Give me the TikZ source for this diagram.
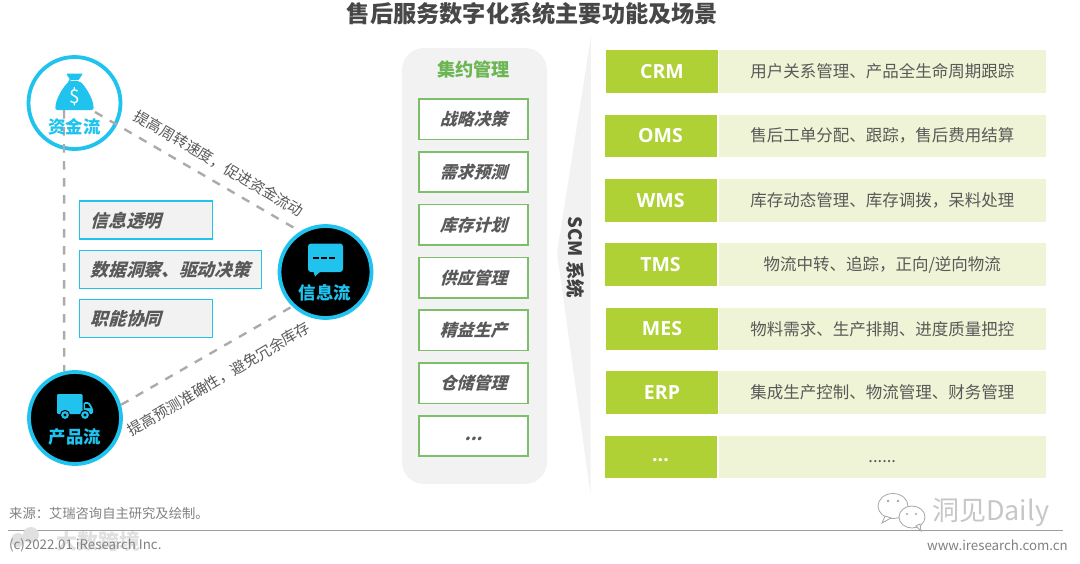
\documentclass[tikz,border=0pt]{standalone}
\usepackage{fontspec}
\setmainfont{Noto Sans CJK SC}
\newfontfamily\cjkslant[FakeSlant=0.28]{Noto Sans CJK SC}
\newfontfamily\latinbold{Open Sans}
\newcommand{\fs}[1]{\fontsize{#1}{#1}\selectfont}
\definecolor{cyanc}{HTML}{1FC3EE}
\definecolor{dash}{HTML}{ABABAB}
\definecolor{panelg}{HTML}{F2F2F2}
\definecolor{leaf}{HTML}{6BB552}
\definecolor{leafline}{HTML}{7DBE6A}
\definecolor{lime}{HTML}{AFD136}
\definecolor{limel}{HTML}{EEF4D5}
\definecolor{ink}{HTML}{595959}
\definecolor{foot}{HTML}{808080}
\tikzset{
  flowc/.style={circle,line width=3.8pt,draw=cyanc,minimum size=92pt,inner sep=0pt},
  flowlab/.style={text=cyanc,font=\fs{17.4}\bfseries,inner sep=0pt},
  dashline/.style={draw=dash,line width=2.4pt,dash pattern=on 8.5pt off 8.5pt},
  slanttxt/.style={text=ink,inner sep=0pt,font=\fs{14.9}},
  infobox/.style={rectangle,fill=panelg,draw=cyanc,line width=1.4pt,minimum height=38pt,inner sep=0pt,anchor=west},
  infotxt/.style={text=ink,inner sep=0pt,anchor=west,font=\cjkslant\bfseries\fs{17.7}},
  taskbox/.style={rectangle,fill=white,draw=leafline,line width=1.6pt,minimum width=109pt,minimum height=40.5pt,inner sep=0pt,text=ink,font=\cjkslant\bfseries\fs{16.8}},
  keybox/.style={rectangle,fill=lime,minimum width=112pt,minimum height=42.6pt,inner sep=0pt,text=white,font=\latinbold\bfseries\fs{19.5}},
  descbox/.style={rectangle,fill=limel,minimum height=42.6pt,inner sep=0pt,text=ink,font=\fs{16.5}},
  footer/.style={text=foot,inner sep=0pt,font=\fs{13.3}},
}
\newcommand{\rowitem}[5]{%
  \node[descbox,minimum width=327.5pt] (d#1) at (882.25,#3) {#5};
  \node[keybox] (k#1) at (#2,#3) {#4};
}
\begin{document}
\begin{tikzpicture}[x=1pt,y=-1pt]
\useasboundingbox (0,0) rectangle (1080,563);
% title
\node[inner sep=0pt,text=black!72,font=\fs{23.2}\bfseries] (title) at (532.5,14) {售后服务数字化系统主要功能及场景};
% circles
\node[flowc,fill=white] (fund) at (74.5,103) {};
\node[flowc,fill=black] (info) at (325.5,272) {};
\node[flowc,fill=black] (prod) at (75,418) {};
% connectors
\coordinate (fundv) at (64,110);
\coordinate (fundd) at (95,112);
\draw[dashline] (fundv) -- (prod.103);
\draw[dashline] (fundd) -- (info.122);
\draw[dashline] (prod.16) -- (info.226);
% icons
\fill[cyanc] (66.5,73.5) -- (82.5,73.5) -- (81,76.5) -- (78.5,80) -- (70.5,80) -- (68,76.5) -- cycle;
\fill[cyanc,rounded corners=2pt] (69.5,81) -- (79.5,81) .. controls (86,87) and (94,100) .. (93.5,110) -- (55.5,110) .. controls (55,100) and (63,87) .. (69.5,81) -- cycle;
\node[inner sep=0pt,text=white,font=\fs{19}] (dollar) at (74.5,96.5) {\$};
\node[flowlab] (fundl) at (74.5,126.5) {资金流};
\fill[cyanc,rounded corners=3pt] (308,243.5) rectangle (343,272);
\fill[cyanc] (313,270) -- (322,270) -- (315,276.5) -- cycle;
\foreach \xx in {313,321,329}{\fill[black] (\xx,256.5) rectangle +(6,2.6);}
\node[flowlab] (infol) at (325,293) {信息流};
\fill[cyanc,rounded corners=1.2pt] (57,394) rectangle (82.5,414);
\fill[cyanc,rounded corners=1.5pt] (83.5,402) -- (89,402) -- (93,408.5) -- (93,414) -- (83.5,414) -- cycle;
\fill[black] (85,404) -- (88,404) -- (90.5,408) -- (85,408) -- cycle;
\foreach \xx in {65,85}{\fill[cyanc,draw=black,line width=1pt] (\xx,415) circle (4.6pt);\fill[black] (\xx,415) circle (1.7pt);}
\node[flowlab] (prodl) at (75,437) {产品流};
% connector labels
\node[slanttxt,rotate=-30.5] (lab1) at (219,163.5) {提高周转速度，促进资金流动};
\node[slanttxt,rotate=30.5] (lab2) at (219,379) {提高预测准确性，避免冗余库存};
% info boxes
\node[infobox,minimum width=133pt] (b1) at (78.5,220) {};
\node[infobox,minimum width=182pt] (b2) at (78.5,269.5) {};
\node[infobox,minimum width=133pt] (b3) at (78.5,318.5) {};
\node[infotxt] (t1) at (90.5,220.5) {信息透明};
\node[infotxt] (t2) at (90.5,270) {数据洞察、驱动决策};
\node[infotxt] (t3) at (90.5,319) {职能协同};
% central panel
\fill[panelg,rounded corners=22pt] (402,48) rectangle (547,484);
\node[inner sep=0pt,text=leaf,font=\fs{18.2}\bfseries] (ph) at (473.5,70) {集约管理};
\node[taskbox] (p1) at (473.5,119.2) {战略决策};
\node[taskbox] (p2) at (473.5,172) {需求预测};
\node[taskbox] (p3) at (473.5,224.8) {库存计划};
\node[taskbox] (p4) at (473.5,277.6) {供应管理};
\node[taskbox] (p5) at (473.5,330.4) {精益生产};
\node[taskbox] (p6) at (473.5,383.2) {仓储管理};
\node[taskbox] (p7) at (473.5,436) {\raisebox{-4pt}[0pt][0pt]{...}};
% brace wedge
\fill[panelg] (591,36) -- (557,253) -- (590.5,494) -- cycle;
\node[rotate=-90,inner sep=0pt,text=black!75,font=\fs{18.5}\bfseries] (scm) at (575.5,257.5) {SCM 系统};
% rows
\rowitem{a}{662}{71.5}{CRM}{\raisebox{-2pt}{用户关系管理、产品全生命周期跟踪}}
\rowitem{b}{660.5}{135.8}{OMS}{\raisebox{-2pt}{售后工单分配、跟踪，售后费用结算}}
\rowitem{c}{660.5}{200.2}{WMS}{\raisebox{-2pt}{库存动态管理、库存调拨，呆料处理}}
\rowitem{d}{660.5}{264.5}{TMS}{\raisebox{-2pt}{物流中转、追踪，正向/逆向物流}}
\rowitem{e}{662}{328.8}{MES}{\raisebox{-2pt}{物料需求、生产排期、进度质量把控}}
\rowitem{f}{662}{392.7}{ERP}{\raisebox{-2pt}{集成生产控制、物流管理、财务管理}}
\rowitem{g}{660.5}{457}{\raisebox{-4.7pt}[0pt][0pt]{...}}{\raisebox{-5pt}[0pt][0pt]{......}}
% footer
\node[footer,anchor=west] (src) at (9,513) {来源：艾瑞咨询自主研究及绘制。};
\coordinate (ruleL) at (8,530.5);
\coordinate (ruleR) at (1063,530.5);
\draw[draw=black!38,line width=1.3pt] (ruleL) -- (ruleR);
% watermarks
\node[inner sep=0pt,anchor=west,text=black!22,font=\fs{27}] (wm1) at (932,513) {洞见Daily};
\begin{scope}[draw=black!35,fill=white,line width=0.8pt]
\filldraw (893,506) ellipse (15pt and 12.5pt);
\filldraw (885,516) -- (882,523) -- (891,518) -- cycle;
\filldraw (912,517) ellipse (13pt and 11pt);
\filldraw (916,526) -- (921,531) -- (920,524) -- cycle;
\fill[black!35] (888,501) circle (1.3pt) (898,501) circle (1.3pt) (907,514) circle (1.2pt) (916,514) circle (1.2pt);
\end{scope}
\node[inner sep=0pt,anchor=west,text=black!12,font=\fs{21}\bfseries] (wm2) at (56,541) {大数跨境};
\begin{scope}[fill=black!12]
\fill (18,540) circle (7pt) (31,535) circle (8pt);
\end{scope}
\node[footer,anchor=west] (copy) at (9,545) {(c)2022.01 iResearch Inc.};
\node[footer,anchor=east] (web) at (1068,545) {www.iresearch.com.cn};
\end{tikzpicture}
\end{document}
